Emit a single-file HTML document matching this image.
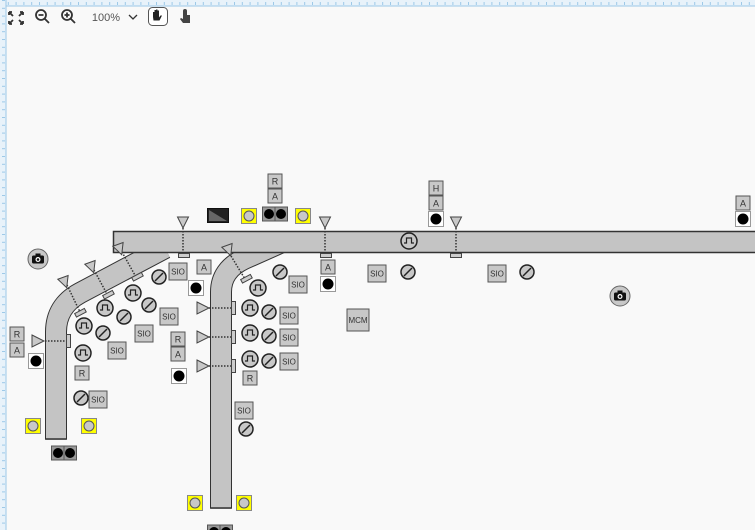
<!DOCTYPE html>
<html><head><meta charset="utf-8"><style>
html,body{margin:0;padding:0;background:#f9f9f9;}
svg{display:block;font-family:"Liberation Sans",sans-serif;}
.b{fill:#c8c8c8;stroke:#555;stroke-width:1;}
.t{font-size:8px;fill:#333;text-anchor:middle;}
.t2{font-size:9px;fill:#333;text-anchor:middle;}
</style></head><body>
<svg width="755" height="530" viewBox="0 0 755 530" xmlns="http://www.w3.org/2000/svg">
<defs>
<pattern id="rt" width="7.8" height="6" patternUnits="userSpaceOnUse"><line x1="0.5" y1="2" x2="0.5" y2="5" stroke="#9cc8e8" stroke-width="1"/></pattern>
<pattern id="rl" width="6" height="7.8" patternUnits="userSpaceOnUse"><line x1="2" y1="0.5" x2="5" y2="0.5" stroke="#9cc8e8" stroke-width="1"/></pattern>
<g id="pulse"><circle r="8" fill="#c8c8c8" stroke="#222" stroke-width="1.5"/><path d="M-5,2 H-2.5 V-3 H2.5 V2 H5" fill="none" stroke="#222" stroke-width="1.2"/></g>
<g id="slash"><circle r="7" fill="#c8c8c8" stroke="#222" stroke-width="1.5"/><line x1="-4" y1="4" x2="4" y2="-4" stroke="#222" stroke-width="1.5"/></g>
<g id="dot"><rect x="-7.5" y="-7.5" width="15" height="15" fill="#fff" stroke="#999"/><circle r="5.5" fill="#000"/></g>
<g id="yel"><rect x="-7.5" y="-7.5" width="15" height="15" fill="#ffff00" stroke="#888"/><circle r="5" fill="#c8c8c8" stroke="#555"/></g>
<g id="dbl"><rect x="-12.5" y="-7" width="25" height="14" fill="#999" stroke="#555"/><line x1="0" y1="-7" x2="0" y2="7" stroke="#555"/><circle cx="-6" r="5" fill="#000"/><circle cx="6" r="5" fill="#000"/></g>
<g id="cam"><circle r="10" fill="#c8c8c8" stroke="#666"/><rect x="-6" y="-3.5" width="12" height="8" rx="1.5" fill="#111"/><rect x="-2.5" y="-5.5" width="5" height="3" fill="#111"/><circle cy="0.5" r="2.5" fill="#fff"/><circle cy="0.5" r="1.3" fill="#111"/></g>
<g id="tdn"><path d="M-5.5,-6 L5.5,-6 L0,5 Z" fill="#c8c8c8" stroke="#444"/></g>
<g id="trt"><path d="M-6,-6 L6,0 L-6,6 Z" fill="#c8c8c8" stroke="#444"/></g>
</defs>
<rect x="0" y="0" width="755" height="6" fill="#e8f2fa"/>
<rect x="0" y="0" width="755" height="6" fill="url(#rt)"/>
<line x1="0" y1="6" x2="755" y2="6" stroke="#9cc8e8"/>
<rect x="0" y="0" width="6" height="530" fill="#e8f2fa"/>
<rect x="0" y="0" width="6" height="530" fill="url(#rl)"/>
<line x1="6" y1="0" x2="6" y2="530" stroke="#9cc8e8"/>

<g stroke="#333" stroke-width="1.8" fill="none">
<path d="M9,12 l4,4 M9,12 h3 M9,12 v3 M23,12 l-4,4 M23,12 h-3 M23,12 v3 M9,24 l4,-4 M9,24 h3 M9,24 v-3 M23,24 l-4,-4 M23,24 h-3 M23,24 v-3"/>
<circle cx="41" cy="15" r="5"/><path d="M44.5,18.5 L49,23 M38.5,15 h5"/>
<circle cx="67" cy="15" r="5"/><path d="M70.5,18.5 L75,23 M64.5,15 h5 M67,12.5 v5"/>
<path d="M129,15 l4,4 l4,-4" stroke-width="1.3"/>
</g>
<text x="106" y="21" font-size="11" fill="#555" text-anchor="middle">100%</text>
<rect x="148.5" y="7.5" width="19" height="18" rx="4" fill="#fff" stroke="#555"/>
<path d="M153,17 v-5 h1.5 v4 v-6 h1.5 v6 v-6.5 h1.5 v6.5 v-5.5 h1.5 v7 l1.5,-2 h1.5 l-2.5,5 h-6 z" fill="#222"/>
<path d="M183,11 a2,2 0 0 1 4,0 v4 h3 v8 h-7 l-3,-4 l1,-1 l2,1 z" fill="#444"/>

<g fill="none" stroke-linecap="butt" stroke-linejoin="round">
<path d="M56,439 L56,332 Q56,306 80,293 L165,248" stroke="#333" stroke-width="22"/>
<path d="M56,440 L56,332 Q56,306 80,293 L165,248" stroke="#c4c4c4" stroke-width="20"/>
<path d="M221,508 L221,292 Q221,270 244,259 L280,243" stroke="#333" stroke-width="22"/>
<path d="M221,509 L221,292 Q221,270 244,259 L280,243" stroke="#c4c4c4" stroke-width="20"/>
</g>
<line x1="45" y1="439" x2="67" y2="439" stroke="#333" stroke-width="1.5"/>
<line x1="210" y1="508" x2="232" y2="508" stroke="#333" stroke-width="1.5"/>
<rect x="113.5" y="231.5" width="645" height="21" fill="#c4c4c4" stroke="#333" stroke-width="1.5"/>

<g stroke="#333" stroke-dasharray="1.5,1.5" stroke-width="1.5">
<line x1="183" y1="228" x2="183" y2="254"/><line x1="325" y1="228" x2="325" y2="254"/><line x1="456" y1="228" x2="456" y2="254"/>
<line x1="67" y1="285" x2="80" y2="312"/><line x1="94" y1="270" x2="107" y2="294"/><line x1="122" y1="252" x2="136" y2="277"/>
<line x1="231" y1="256" x2="245" y2="279"/>
<line x1="45" y1="341" x2="67" y2="341"/>
<line x1="209" y1="308" x2="233" y2="308"/><line x1="209" y1="337" x2="233" y2="337"/><line x1="209" y1="366" x2="233" y2="366"/>
</g>
<use href="#tdn" x="183" y="223"/><use href="#tdn" x="325" y="223"/><use href="#tdn" x="456" y="223"/>
<rect x="178.5" y="253.5" width="11" height="4" fill="#ccc" stroke="#444"/>
<rect x="320.5" y="253.5" width="11" height="4" fill="#ccc" stroke="#444"/>
<rect x="450.5" y="253.5" width="11" height="4" fill="#ccc" stroke="#444"/>
<use href="#tdn" x="65" y="283" transform="rotate(-20 65 283)"/>
<use href="#tdn" x="92" y="268" transform="rotate(-20 92 268)"/>
<use href="#tdn" x="120" y="250" transform="rotate(-20 120 250)"/>
<use href="#tdn" x="229" y="251" transform="rotate(-20 229 251)"/>
<g fill="#ccc" stroke="#444">
<rect x="75" y="311" width="11" height="4" transform="rotate(-28 80 313)"/>
<rect x="103" y="293" width="11" height="4" transform="rotate(-28 108 295)"/>
<rect x="132" y="275" width="11" height="4" transform="rotate(-28 137 277)"/>
<rect x="241" y="277" width="11" height="4" transform="rotate(-28 246 279)"/>
<rect x="66.5" y="334.5" width="4" height="13"/>
<rect x="231.5" y="301.5" width="4" height="13"/><rect x="231.5" y="330.5" width="4" height="13"/><rect x="231.5" y="359.5" width="4" height="13"/>
</g>
<use href="#trt" x="38" y="341"/>
<use href="#trt" x="203" y="308"/><use href="#trt" x="203" y="337"/><use href="#trt" x="203" y="366"/>

<use href="#pulse" x="409" y="241"/>
<use href="#pulse" x="133" y="293"/><use href="#pulse" x="105" y="308"/><use href="#pulse" x="84" y="326"/><use href="#pulse" x="83" y="353"/>
<use href="#pulse" x="258" y="288"/><use href="#pulse" x="250" y="308"/><use href="#pulse" x="250" y="333"/><use href="#pulse" x="250" y="359"/>
<use href="#slash" x="159" y="277"/><use href="#slash" x="149" y="305"/><use href="#slash" x="124" y="317"/><use href="#slash" x="103" y="333"/><use href="#slash" x="81" y="398"/>
<use href="#slash" x="280" y="272"/><use href="#slash" x="269" y="312"/><use href="#slash" x="269" y="336"/><use href="#slash" x="269" y="361"/><use href="#slash" x="246" y="429"/>
<use href="#slash" x="408" y="272"/><use href="#slash" x="527" y="272"/>

<g>
<rect class="b" x="169" y="263" width="18" height="17"/><text class="t" x="178" y="274.5">SIO</text>
<rect class="b" x="160" y="308" width="18" height="17"/><text class="t" x="169" y="319.5">SIO</text>
<rect class="b" x="135" y="325" width="18" height="17"/><text class="t" x="144" y="336.5">SIO</text>
<rect class="b" x="108" y="342" width="18" height="17"/><text class="t" x="117" y="353.5">SIO</text>
<rect class="b" x="89" y="391" width="18" height="17"/><text class="t" x="98" y="402.5">SIO</text>
<rect class="b" x="289" y="276" width="18" height="17"/><text class="t" x="298" y="287.5">SIO</text>
<rect class="b" x="280" y="307" width="18" height="17"/><text class="t" x="289" y="318.5">SIO</text>
<rect class="b" x="280" y="329" width="18" height="17"/><text class="t" x="289" y="340.5">SIO</text>
<rect class="b" x="280" y="353" width="18" height="17"/><text class="t" x="289" y="364.5">SIO</text>
<rect class="b" x="235" y="402" width="18" height="17"/><text class="t" x="244" y="413.5">SIO</text>
<rect class="b" x="368" y="265" width="18" height="17"/><text class="t" x="377" y="276.5">SIO</text>
<rect class="b" x="488" y="265" width="18" height="17"/><text class="t" x="497" y="276.5">SIO</text>
<rect class="b" x="347" y="309" width="22" height="22"/><text class="t" x="358" y="323" font-size="7">MCM</text>
</g>

<g>
<rect class="b" x="268" y="174" width="14" height="14"/><text class="t2" x="275" y="184.5">R</text>
<rect class="b" x="268" y="189" width="14" height="14"/><text class="t2" x="275" y="199.5">A</text>
<rect class="b" x="429" y="181" width="14" height="14"/><text class="t2" x="436" y="191.5">H</text>
<rect class="b" x="429" y="196" width="14" height="14"/><text class="t2" x="436" y="206.5">A</text>
<rect class="b" x="736" y="196" width="14" height="14"/><text class="t2" x="743" y="206.5">A</text>
<rect class="b" x="197" y="260" width="14" height="14"/><text class="t2" x="204" y="270.5">A</text>
<rect class="b" x="321" y="260" width="14" height="14"/><text class="t2" x="328" y="270.5">A</text>
<rect class="b" x="10" y="327" width="14" height="14"/><text class="t2" x="17" y="337.5">R</text>
<rect class="b" x="10" y="343" width="14" height="14"/><text class="t2" x="17" y="353.5">A</text>
<rect class="b" x="75" y="366" width="14" height="14"/><text class="t2" x="82" y="376.5">R</text>
<rect class="b" x="171" y="332" width="14" height="14"/><text class="t2" x="178" y="342.5">R</text>
<rect class="b" x="171" y="347" width="14" height="14"/><text class="t2" x="178" y="357.5">A</text>
<rect class="b" x="243" y="371" width="14" height="14"/><text class="t2" x="250" y="381.5">R</text>
</g>
<use href="#dot" x="436" y="219"/><use href="#dot" x="743" y="219"/><use href="#dot" x="196" y="288"/><use href="#dot" x="328" y="284"/>
<use href="#dot" x="36" y="361"/><use href="#dot" x="179" y="376"/>
<use href="#yel" x="249" y="216"/><use href="#yel" x="303" y="216"/><use href="#yel" x="33" y="426"/><use href="#yel" x="89" y="426"/><use href="#yel" x="195" y="503"/><use href="#yel" x="244" y="503"/>
<use href="#dbl" x="275" y="214"/><use href="#dbl" x="64" y="453"/><use href="#dbl" x="220" y="532"/>
<rect x="207.5" y="208.5" width="21" height="14" fill="#222" stroke="#111"/>
<path d="M209,210 L227,221 L209,221 Z" fill="#666"/>
<use href="#cam" x="38" y="259"/><use href="#cam" x="620" y="296"/>
</svg>
</body></html>
